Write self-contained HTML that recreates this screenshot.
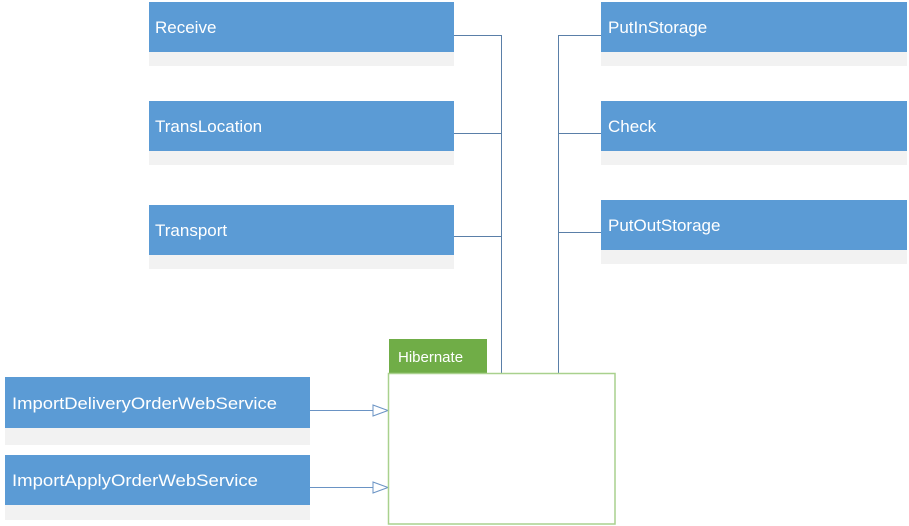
<!DOCTYPE html>
<html><head><meta charset="utf-8"><style>
html,body{margin:0;padding:0;background:#fff;width:909px;height:526px;overflow:hidden}
svg text{font-family:"Liberation Sans",sans-serif;font-size:17px;fill:#fff}
</style></head><body>
<svg width="909" height="526" viewBox="0 0 909 526" xmlns="http://www.w3.org/2000/svg">
<g fill="#f2f2f2">
<rect x="149" y="52" width="305" height="14"/>
<rect x="149" y="151" width="305" height="14"/>
<rect x="149" y="255" width="305" height="14"/>
<rect x="601" y="52" width="306" height="14"/>
<rect x="601" y="151" width="306" height="14"/>
<rect x="601" y="250" width="306" height="14"/>
<rect x="5" y="428" width="305" height="17"/>
<rect x="5" y="505" width="305" height="15"/>
</g>
<g fill="#5b9bd5">
<rect x="149" y="2" width="305" height="50"/>
<rect x="149" y="101" width="305" height="50"/>
<rect x="149" y="205" width="305" height="50"/>
<rect x="601" y="2" width="306" height="50"/>
<rect x="601" y="101" width="306" height="50"/>
<rect x="601" y="200" width="306" height="50"/>
<rect x="5" y="377" width="305" height="51"/>
<rect x="5" y="455" width="305" height="50"/>
</g>
<g stroke="#5a7fa8" stroke-width="1" fill="none">
<polyline points="454,35.5 501.5,35.5 501.5,373"/>
<line x1="454" y1="133.5" x2="501.5" y2="133.5"/>
<line x1="454" y1="236.5" x2="501.5" y2="236.5"/>
<polyline points="601,35.5 558.5,35.5 558.5,373"/>
<line x1="601" y1="133.5" x2="558.5" y2="133.5"/>
<line x1="601" y1="232.5" x2="558.5" y2="232.5"/>
<line x1="310" y1="410.5" x2="373" y2="410.5" stroke="#6a93c4"/>
<line x1="310" y1="487.5" x2="373" y2="487.5" stroke="#6a93c4"/>
<polygon points="373,405 388,410.5 373,416" stroke="#6a93c4" fill="#fff"/>
<polygon points="373,482 388,487.5 373,493" stroke="#6a93c4" fill="#fff"/>
</g>
<rect x="389" y="339" width="98" height="34" fill="#70ad47"/>
<rect x="388.5" y="373.5" width="226.5" height="150.5" fill="none" stroke="#a9d18e" stroke-width="1.5"/>
<text x="155" y="33">Receive</text>
<text x="155" y="132">TransLocation</text>
<text x="155" y="236">Transport</text>
<text x="608" y="33">PutInStorage</text>
<text x="608" y="132">Check</text>
<text x="608" y="231">PutOutStorage</text>
<text x="12" y="409" textLength="265" lengthAdjust="spacingAndGlyphs">ImportDeliveryOrderWebService</text>
<text x="12" y="486" textLength="246" lengthAdjust="spacingAndGlyphs">ImportApplyOrderWebService</text>
<text x="398" y="362" style="font-size:15px">Hibernate</text>
</svg>
</body></html>
